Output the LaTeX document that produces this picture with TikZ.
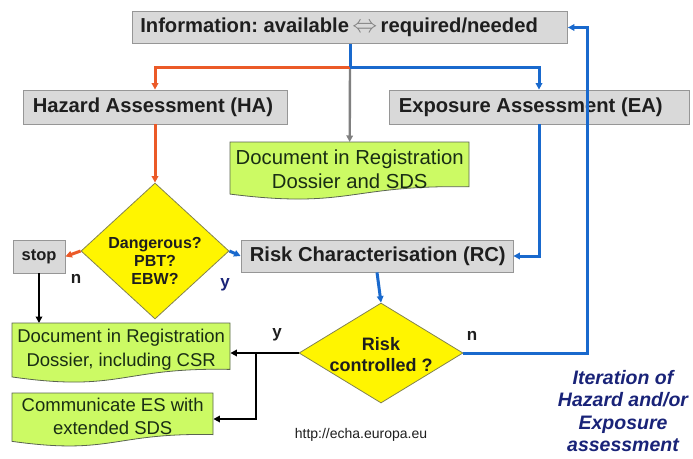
\documentclass[tikz,border=0pt]{standalone}
\usepackage{fontspec}
\setmainfont{Liberation Sans}
\usetikzlibrary{shapes.geometric,arrows.meta,calc}
\definecolor{boxgray}{RGB}{217,217,217}
\definecolor{boxline}{RGB}{150,150,150}
\definecolor{docgreen}{RGB}{204,250,100}
\definecolor{docline}{RGB}{90,100,80}
\definecolor{dyellow}{RGB}{255,245,0}
\definecolor{dline}{RGB}{130,130,80}
\definecolor{orangel}{RGB}{235,90,40}
\definecolor{bluel}{RGB}{25,105,205}
\definecolor{grayl}{RGB}{128,128,128}
\definecolor{txt}{RGB}{30,30,30}
\definecolor{doctxt}{RGB}{25,45,20}
\definecolor{navy}{RGB}{25,35,120}
\newcommand\docpath[4]{(#1,#2) -- ({#1+#3},#2) -- ({#1+#3},{#2+0.80*#4}) .. controls ({#1+0.5*#3},{#2+0.76*#4}) and ({#1+0.5*#3},{#2+1.2*#4}) .. (#1,{#2+0.93*#4}) -- cycle}
\frenchspacing
\begin{document}
\begin{tikzpicture}[x=1pt,y=-1pt,
  graybox/.style={draw=boxline, fill=boxgray, line width=0.8pt, inner sep=0pt},
  boxtext/.style={anchor=west, inner sep=0pt, text=txt, font=\fontsize{20.2}{23}\selectfont\bfseries\frenchspacing},
  docshape/.style={draw=docline, fill=docgreen, line width=0.8pt},
  doctext/.style={anchor=north west, inner sep=0pt, align=center, text=doctxt,
    font=\fontsize{18.5}{24}\selectfont},
  dia/.style={diamond, draw=dline, fill=dyellow, line width=0.8pt, inner sep=0pt},
  diatext/.style={align=center, inner sep=0pt, text=txt, font=\fontsize{16}{18}\selectfont\bfseries},
  lab/.style={inner sep=0pt, text=txt, font=\fontsize{17}{20}\selectfont\bfseries},
  tip/.style={-{Triangle[length=6.5pt,width=6.5pt]}},
  oline/.style={draw=orangel, line width=3pt, tip},
  bline/.style={draw=bluel, line width=3pt, tip},
  gline/.style={draw=grayl, line width=2.4pt, tip},
  kline/.style={draw=black, line width=1.9pt, tip},
]
\useasboundingbox (0,0) rectangle (693,458);

% document shapes (backgrounds)
\path[docshape] \docpath{230}{142}{239}{56};
\path[docshape] \docpath{12}{323}{218}{58};
\path[docshape] \docpath{12}{393}{201}{52};

% boxes
\node[graybox, minimum width=435pt, minimum height=32pt] (info) at (350,27.5) {};
\node[boxtext] (infot) at ($(info.west)+(8,0)$)
  {Information: available\,{\color{grayl}\fontsize{26}{26}\selectfont$\Leftrightarrow$}\,required/needed};
\node[graybox, minimum width=264pt, minimum height=34pt] (ha) at (155,107) {};
\node[boxtext] (hat) at ($(ha.west)+(10,0)$) {Hazard Assessment (HA)};
\node[graybox, minimum width=300pt, minimum height=34pt] (ea) at (539,107) {};
\node[boxtext] (eat) at ($(ea.west)+(10,0)$) {Exposure Assessment (EA)};
\node[graybox, minimum width=272pt, minimum height=32pt] (rc) at (377,256) {};
\node[boxtext] (rct) at ($(rc.west)+(9,0)$) {Risk Characterisation (RC)};
\node[graybox, minimum width=52pt, minimum height=33pt, text=txt, font=\fontsize{16.5}{18}\selectfont\bfseries] (stop) at (39,256.5) {stop};

% document texts
\node[doctext, minimum width=239pt, minimum height=54pt, font=\fontsize{20.3}{24}\selectfont] (doc1) at (230,142)
  {Document in Registration\\Dossier and SDS};
\node[doctext, minimum width=218pt, minimum height=54pt] (doc2) at (12,323)
  {Document in Registration\\Dossier, including CSR};
\node[doctext, minimum width=201pt, minimum height=47pt, font=\fontsize{18.5}{23}\selectfont] (doc3) at (12,393)
  {Communicate ES with\\extended SDS};

% diamonds
\node[dia, minimum width=148pt, minimum height=136pt] (d1) at (155,251) {};
\node[diatext] (d1t) at (155,261) {Dangerous?\\PBT?\\EBW?};
\node[dia, minimum width=164pt, minimum height=100pt] (d2) at (381,353) {};
\node[diatext, font=\fontsize{18}{21}\selectfont\bfseries] (d2t) at (381,355) {Risk\\controlled ?};

% connectors
\coordinate (j) at (350,67);
\draw[gline] (j) -- (doc1.north);
\draw[oline] (j) -| (ha.north);
\draw[bline] (j) -| (ea.north);
\draw[draw=bluel, line width=3pt] (info.south) -- (j);
\draw[oline] (ha.south) -- (d1.north);
\draw[oline] (d1.west) -- (stop.east);
\draw[bline] (d1.east) -- (rc.west);
\draw[bline] (ea.south) |- (rc.east);
\draw[bline] (rc.south) -- (d2.north);
\coordinate (fb) at (587,353);
\draw[bline] (d2.east) -- (fb) |- (info.east);
\draw[kline] (stop.south) -- (stop.south |- doc2.north);
\draw[kline] (d2.west) -- (d2.west -| doc2.east);
\coordinate (br) at (256,353);
\coordinate (br2) at (256,419);
\draw[kline] (br) -- (br2) -- (br2 -| doc3.east);

% labels
\node[lab] (ln1) at (76,279) {n};
\node[lab, text=navy] (ly1) at (225,285) {y};
\node[lab] (ly2) at (277,335) {y};
\node[lab] (ln2) at (472,336) {n};

\node[inner sep=0pt, text=txt, font=\fontsize{14}{16}\selectfont] (url) at (361,435) {http://echa.europa.eu};
\node[align=center, inner sep=0pt, text=navy, font=\fontsize{19.5}{22.2}\selectfont\bfseries\itshape] (iter) at (623,411)
  {Iteration of\\Hazard and/or\\Exposure\\assessment};
\end{tikzpicture}
\end{document}
